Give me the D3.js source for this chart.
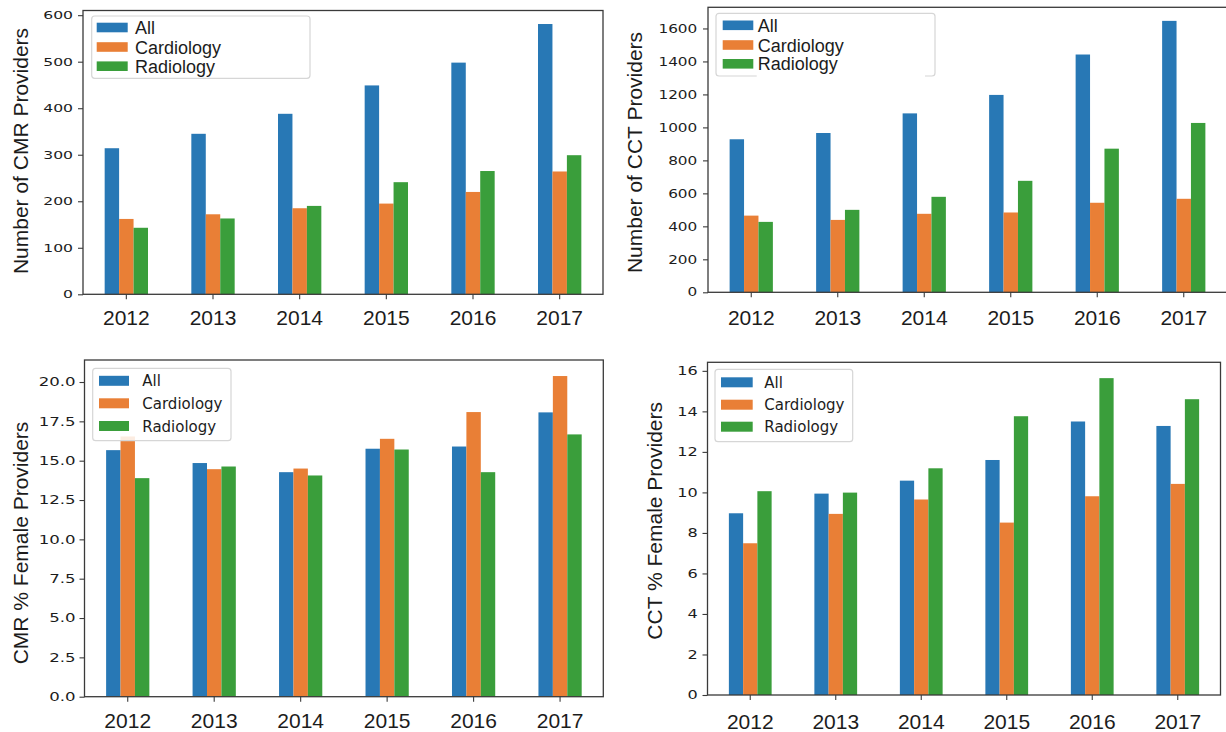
<!DOCTYPE html>
<html>
<head>
<meta charset="utf-8">
<script src="https://cdn.jsdelivr.net/npm/d3@7"></script>
<style>
  html, body { margin: 0; padding: 0; background: #fff; }
  svg { display: block; }
</style>
</head>
<body>
<svg id="fig" width="1226" height="732"></svg>
<script>
// ---- data ----
const years = ["2012", "2013", "2014", "2015", "2016", "2017"];
const seriesNames = ["All", "Cardiology", "Radiology"];

const cmrAll = [314, 345, 388, 449, 498, 581];
const cmrCardiology = [162, 172, 185, 195, 220, 264];
const cmrRadiology = [143, 163, 190, 241, 265, 299];

const cctAll = [928, 966, 1085, 1197, 1442, 1646];
const cctCardiology = [465, 439, 476, 484, 543, 567];
const cctRadiology = [427, 500, 579, 676, 871, 1027];

const cmrFemaleAll = [15.67, 14.85, 14.27, 15.76, 15.90, 18.07];
const cmrFemaleCardiology = [16.54, 14.46, 14.50, 16.39, 18.09, 20.38];
const cmrFemaleRadiology = [13.89, 14.63, 14.06, 15.71, 14.27, 16.67];

const cctFemaleAll = [8.97, 9.94, 10.58, 11.60, 13.50, 13.28];
const cctFemaleCardiology = [7.49, 8.94, 9.65, 8.51, 9.81, 10.42];
const cctFemaleRadiology = [10.06, 9.99, 11.19, 13.76, 15.64, 14.60];

const cmrTicks = [0, 100, 200, 300, 400, 500, 600];
const cctTicks = [0, 200, 400, 600, 800, 1000, 1200, 1400, 1600];
const cmrFemaleTicks = [0, 2.5, 5, 7.5, 10, 12.5, 15, 17.5, 20];
const cctFemaleTicks = [0, 2, 4, 6, 8, 10, 12, 14, 16];

const colors = ["#2878b5", "#e97f36", "#3a9e3b"];

// ---- panel layout ----
const panels = [
  {
    series: [cmrAll, cmrCardiology, cmrRadiology], ticks: cmrTicks, fmt: d3.format("d"),
    title: "Number of CMR Providers", titleX: 28, titleY: 151,
    box: {l: 83, r: 603, t: 10.5, b: 294.3},
    tickFont: 11, tickScale: 1.42, tickGap: 10,
    yearBaseline: 30.7,
    legend: {x0: 91.7, x1: 310, y0: 16, y1: 78.3, px: 96.7, pw: 31, ph: 9.6,
             rows: [27.5, 47, 66.2], tx: 135, font: "'Liberation Sans', Arial, sans-serif", fs: 18, dy: 6.5}
  },
  {
    series: [cctAll, cctCardiology, cctRadiology], ticks: cctTicks, fmt: d3.format("d"),
    title: "Number of CCT Providers", titleX: 642, titleY: 152.5,
    box: {l: 708, r: 1227, t: 7.3, b: 292.3},
    tickFont: 11.5, tickScale: 1.33, tickGap: 10.7,
    yearBaseline: 32.7,
    legend: {x0: 716, x1: 935, y0: 13.3, y1: 76, px: 722.7, pw: 30.6, ph: 9.6,
             rows: [25.3, 45, 63.8], tx: 757.7, font: "'Liberation Sans', Arial, sans-serif", fs: 18, dy: 6.5,
             textBg: true}
  },
  {
    series: [cmrFemaleAll, cmrFemaleCardiology, cmrFemaleRadiology], ticks: cmrFemaleTicks, fmt: d3.format(".1f"),
    title: "CMR % Female Providers", titleX: 28, titleY: 543,
    box: {l: 84.5, r: 603.3, t: 360, b: 696.7},
    tickFont: 12, tickScale: 1.38, tickGap: 9,
    yearBaseline: 31.8,
    legend: {x0: 92.7, x1: 231, y0: 368.3, y1: 440.7, px: 99, pw: 30, ph: 10,
             rows: [380.8, 403.3, 426], tx: 142.3, font: "'DejaVu Sans', sans-serif", fs: 15, dy: 5.5}
  },
  {
    series: [cctFemaleAll, cctFemaleCardiology, cctFemaleRadiology], ticks: cctFemaleTicks, fmt: d3.format("d"),
    title: "CCT % Female Providers", titleX: 662, titleY: 520.8,
    box: {l: 707.5, r: 1220.5, t: 362.3, b: 695},
    tickFont: 11.5, tickScale: 1.4, tickGap: 9.7,
    yearBaseline: 33.5,
    legend: {x0: 715, x1: 852.7, y0: 369.3, y1: 441.7, px: 721, pw: 31.7, ph: 10,
             rows: [382.3, 404.7, 426.7], tx: 764.3, font: "'DejaVu Sans', sans-serif", fs: 15, dy: 5.5}
  }
];

const svg = d3.select("#fig");
const ink = "#1c1c1c";
const spineColor = "#3a3a3a";

panels.forEach(p => {
  const g = svg.append("g");
  const {l, r, t, b} = p.box;

  const x = d3.scaleBand().domain(years).range([l, r]).paddingInner(0.5).paddingOuter(0.25);
  const xs = d3.scaleBand().domain(seriesNames).range([0, x.bandwidth()]);
  const maxVal = d3.max(p.series.flat());
  const y = d3.scaleLinear().domain([0, maxVal * 1.05]).range([b, t]);

  // bars
  p.series.forEach((vals, si) => {
    g.append("g").selectAll("rect").data(vals).join("rect")
      .attr("x", (d, i) => x(years[i]) + xs(seriesNames[si]))
      .attr("width", xs.bandwidth())
      .attr("y", d => y(d))
      .attr("height", d => y(0) - y(d))
      .attr("fill", colors[si]);
  });

  // frame
  g.append("rect")
    .attr("x", l).attr("y", t).attr("width", r - l).attr("height", b - t)
    .attr("fill", "none").attr("stroke", spineColor).attr("stroke-width", 1.3);

  // y axis
  const yAxis = g.append("g").attr("transform", `translate(${l},0)`)
    .call(d3.axisLeft(y).tickValues(p.ticks).tickFormat(p.fmt).tickSize(5).tickSizeOuter(0));
  yAxis.select(".domain").remove();
  yAxis.selectAll(".tick line").attr("stroke", spineColor).attr("stroke-width", 1.1);
  yAxis.selectAll(".tick text")
    .attr("font-family", "'DejaVu Sans', sans-serif")
    .attr("font-size", p.tickFont)
    .attr("fill", ink)
    .attr("x", -p.tickGap / p.tickScale)
    .attr("transform", `scale(${p.tickScale},1)`);

  // x axis
  const xAxis = g.append("g").attr("transform", `translate(0,${b})`)
    .call(d3.axisBottom(x).tickSize(5).tickSizeOuter(0));
  xAxis.select(".domain").remove();
  xAxis.selectAll(".tick line").attr("stroke", spineColor).attr("stroke-width", 1.1);
  xAxis.selectAll(".tick text")
    .attr("font-family", "'Liberation Sans', Arial, sans-serif")
    .attr("font-size", 21)
    .attr("fill", ink)
    .attr("y", p.yearBaseline)
    .attr("dy", 0);

  // y title
  g.append("text")
    .attr("transform", `translate(${p.titleX},${p.titleY}) rotate(-90)`)
    .attr("text-anchor", "middle")
    .attr("font-family", "'Liberation Sans', Arial, sans-serif")
    .attr("font-size", 21)
    .attr("fill", ink)
    .text(p.title);

  // legend
  const L = p.legend;
  const lg = g.append("g");
  lg.append("rect")
    .attr("x", L.x0).attr("y", L.y0).attr("width", L.x1 - L.x0).attr("height", L.y1 - L.y0)
    .attr("rx", 3).attr("fill", "#fff").attr("fill-opacity", 0.85)
    .attr("stroke", "#d6d6d6").attr("stroke-width", 1.2);
  if (L.textBg) {
    lg.append("rect")
      .attr("x", L.tx - 1).attr("y", L.y0 + 4).attr("width", L.x1 - L.tx - 9).attr("height", L.y1 - L.y0)
      .attr("fill", "#fff");
  }
  seriesNames.forEach((name, si) => {
    lg.append("rect")
      .attr("x", L.px).attr("y", L.rows[si] - L.ph / 2)
      .attr("width", L.pw).attr("height", L.ph)
      .attr("fill", colors[si]);
    lg.append("text")
      .attr("x", L.tx).attr("y", L.rows[si] + L.dy)
      .attr("font-family", L.font)
      .attr("font-size", L.fs)
      .attr("fill", ink)
      .text(name);
  });
});
</script>
</body>
</html>
